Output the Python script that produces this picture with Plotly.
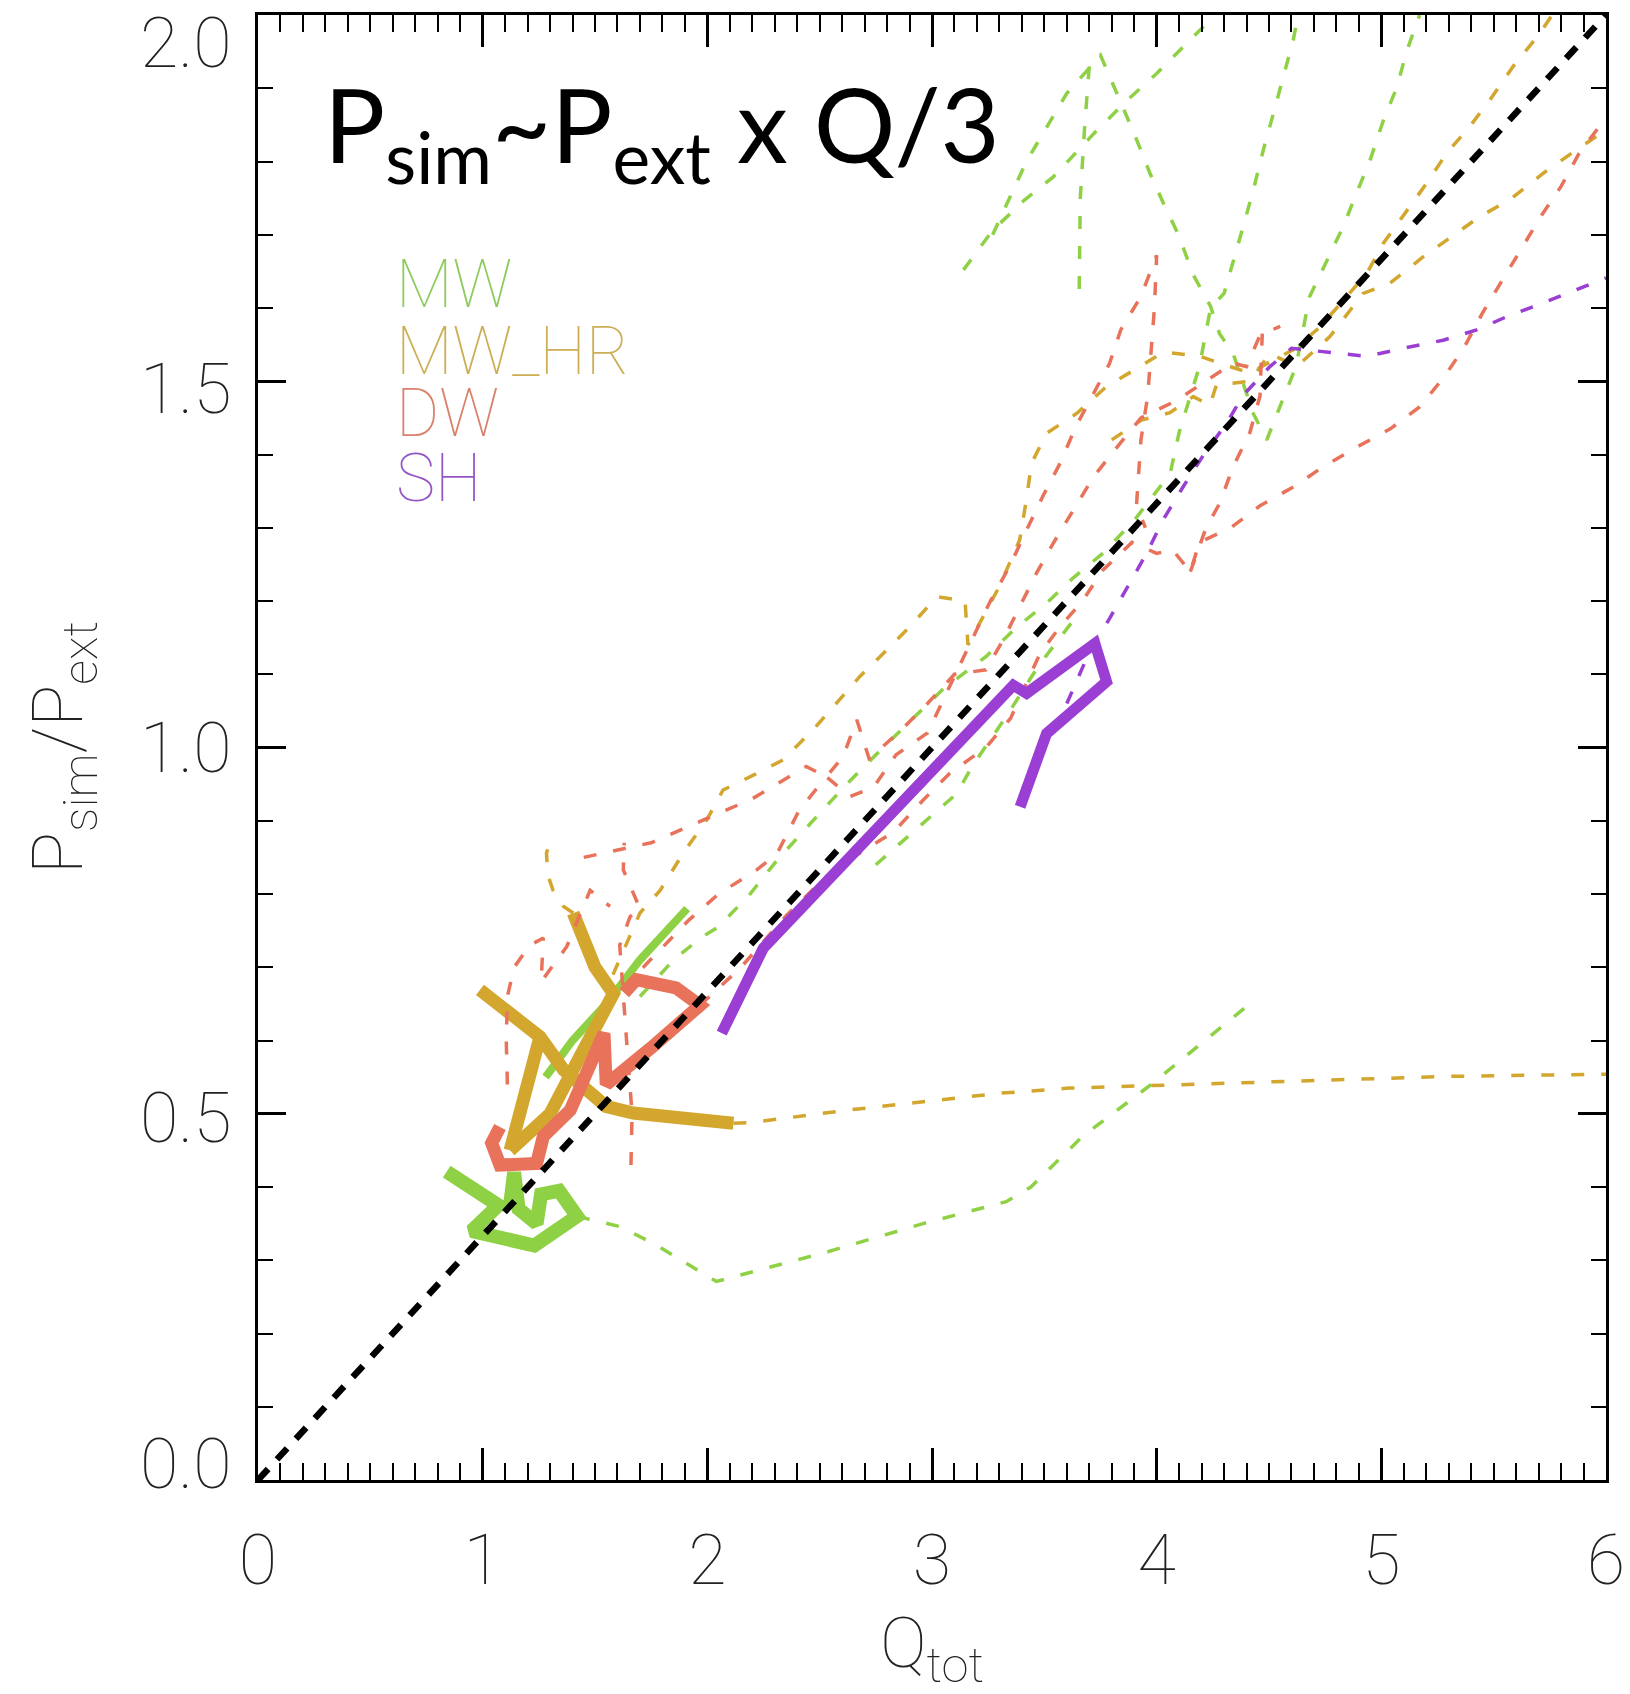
import plotly.graph_objects as go

# ---------------------------------------------------------------------------
# Pressure ratio P_sim/P_ext against total Toomre Q for four galaxy models.
# Each track is a list of (Q_tot, P_sim/P_ext) samples.
# ---------------------------------------------------------------------------

# reference relation P_sim ~ P_ext x Q/3
ref_q = [0.0, 6.0]
ref_ratio = [0.0, 2.0]

# --- MW -------------------------------------------------------------------
mw_core = [(0.84, 0.421), (1.07, 0.375), (0.95, 0.34), (1.13, 0.33), (1.23, 0.32),
           (1.42, 0.36), (1.34, 0.395), (1.26, 0.39), (1.24, 0.35), (1.16, 0.37),
           (1.14, 0.42), (1.12, 0.37)]
mw_wedge = [(1.28, 0.55), (1.40, 0.60), (1.55, 0.65), (1.70, 0.71), (1.91, 0.78)]
mw_low = [(1.42, 0.36), (1.61, 0.346), (1.76, 0.323), (2.04, 0.271), (2.54, 0.312),
          (2.96, 0.35), (3.33, 0.38), (3.44, 0.40), (3.67, 0.469), (3.98, 0.541),
          (4.39, 0.644)]
mw_diag = [(1.70, 0.66), (1.85, 0.71), (1.97, 0.74), (2.05, 0.755), (2.19, 0.80),
           (2.31, 0.846), (2.47, 0.90), (2.62, 0.95), (2.75, 0.99), (2.90, 1.035),
           (3.05, 1.08), (3.24, 1.124), (3.38, 1.165), (3.51, 1.197), (3.63, 1.232),
           (3.76, 1.265), (3.90, 1.31), (4.06, 1.374), (4.10, 1.43), (4.19, 1.52),
           (4.24, 1.60), (4.30, 1.62), (4.34, 1.661), (4.385, 1.711), (4.43, 1.761),
           (4.475, 1.816), (4.52, 1.866), (4.564, 1.916), (4.608, 1.966), (4.63, 2.0)]
mw_below = [(2.75, 0.84), (2.90, 0.88), (3.05, 0.92), (3.11, 0.937), (3.18, 0.975),
            (3.33, 1.042), (3.45, 1.10), (3.51, 1.126), (3.62, 1.17)]
mw_top_a = [(3.14, 1.652), (3.27, 1.706), (3.41, 1.747), (3.54, 1.779), (3.72, 1.838),
            (3.87, 1.884), (4.0, 1.92), (4.12, 1.957), (4.26, 2.0)]
mw_top_b = [(3.27, 1.70), (3.42, 1.80), (3.60, 1.893), (3.75, 1.945), (3.90, 1.838),
            (3.97, 1.784), (4.03, 1.743), (4.10, 1.698), (4.16, 1.647), (4.24, 1.602),
            (4.28, 1.565), (4.34, 1.538), (4.43, 1.456), (4.49, 1.42), (4.56, 1.474),
            (4.62, 1.52), (4.68, 1.615), (4.76, 1.666), (4.83, 1.711), (4.89, 1.757),
            (4.95, 1.802), (5.01, 1.857), (5.07, 1.902), (5.11, 1.948), (5.17, 2.0)]
mw_top_c = [(3.70, 1.93), (3.68, 1.85), (3.66, 1.75), (3.655, 1.62)]

# --- MW_HR ----------------------------------------------------------------
hr_core_a = [(1.403, 0.774), (1.50, 0.70), (1.582, 0.664), (1.50, 0.62), (1.433, 0.578),
             (1.30, 0.50), (1.122, 0.45)]
hr_core_b = [(0.988, 0.669), (1.10, 0.64), (1.255, 0.605), (1.36, 0.56), (1.462, 0.532),
             (1.55, 0.51), (1.67, 0.501), (1.90, 0.493), (2.116, 0.487)]
hr_core_c = [(1.122, 0.45), (1.18, 0.52), (1.255, 0.605)]
hr_flat = [(2.116, 0.487), (2.192, 0.488), (2.627, 0.505), (2.964, 0.516), (3.302, 0.528),
           (3.61, 0.535), (3.948, 0.538), (4.341, 0.542), (4.789, 0.546), (5.297, 0.551),
           (6.0, 0.554)]
hr_rise = [(1.58, 0.69), (1.70, 0.774), (1.79, 0.805), (1.893, 0.856), (1.997, 0.901),
           (2.07, 0.942), (2.203, 0.962), (2.337, 0.983), (2.47, 1.024), (2.576, 1.061),
           (2.679, 1.097), (2.798, 1.133), (2.917, 1.17), (3.021, 1.206), (3.147, 1.20),
           (3.16, 1.14), (3.30, 1.22), (3.39, 1.283), (3.42, 1.338), (3.443, 1.388),
           (3.51, 1.429), (3.644, 1.456), (3.777, 1.493), (3.926, 1.52), (4.03, 1.54),
           (4.193, 1.534), (4.415, 1.511), (4.519, 1.529), (4.608, 1.543), (4.727, 1.574),
           (4.831, 1.611), (4.935, 1.647), (5.008, 1.688), (5.097, 1.725), (5.201, 1.77),
           (5.29, 1.811), (5.394, 1.848), (5.483, 1.884), (5.587, 1.93), (5.706, 1.975),
           (5.76, 2.0)]
hr_rise_b = [(3.80, 1.42), (3.932, 1.447), (4.059, 1.457), (4.163, 1.479), (4.237, 1.467),
             (4.266, 1.495), (4.415, 1.50), (4.504, 1.538), (4.623, 1.52), (4.771, 1.561),
             (4.919, 1.62), (5.039, 1.634), (5.187, 1.67), (5.335, 1.702), (5.439, 1.725),
             (5.573, 1.748), (5.721, 1.784), (5.869, 1.816), (6.0, 1.843)]
hr_stub = [(1.403, 0.774), (1.36, 0.783), (1.313, 0.805), (1.29, 0.826), (1.284, 0.856),
           (1.30, 0.87)]

# --- DW -------------------------------------------------------------------
dw_core = [(1.63, 0.665), (1.684, 0.683), (1.86, 0.672), (1.967, 0.648), (1.75, 0.59),
           (1.55, 0.54), (1.54, 0.61), (1.47, 0.56), (1.39, 0.505), (1.27, 0.469),
           (1.24, 0.432), (1.077, 0.43), (1.04, 0.46), (1.077, 0.482)]
dw_low = [(1.967, 0.648), (2.15, 0.70), (2.35, 0.77), (2.55, 0.83), (2.70, 0.86),
          (2.83, 0.885), (2.96, 0.928), (3.08, 0.965), (3.24, 1.0), (3.35, 1.04),
          (3.48, 1.128), (3.57, 1.165), (3.67, 1.20), (3.76, 1.242), (3.89, 1.28),
          (4.0, 1.265), (4.07, 1.27), (4.15, 1.24), (4.19, 1.28), (4.33, 1.30),
          (4.46, 1.33), (4.61, 1.356), (4.74, 1.383), (4.89, 1.41), (5.04, 1.435),
          (5.17, 1.465), (5.28, 1.506), (5.37, 1.547), (5.45, 1.593), (5.54, 1.638),
          (5.62, 1.679), (5.71, 1.725), (5.80, 1.766), (5.88, 1.811), (6.0, 1.86)]
dw_peak = [(1.62, 0.67), (1.78, 0.72), (1.92, 0.765), (2.05, 0.80), (2.145, 0.819),
           (2.22, 0.833), (2.31, 0.855), (2.41, 0.915), (2.53, 0.96), (2.635, 0.933),
           (2.74, 0.946), (2.84, 0.99), (2.98, 1.02), (3.05, 1.065), (3.12, 1.11),
           (3.20, 1.16), (3.26, 1.20), (3.35, 1.25), (3.41, 1.29), (3.50, 1.347),
           (3.57, 1.388), (3.64, 1.438), (3.72, 1.484), (3.79, 1.524), (3.84, 1.57),
           (3.93, 1.616), (4.0, 1.672), (3.99, 1.60), (3.96, 1.48), (3.93, 1.42),
           (3.91, 1.33), (3.95, 1.30)]
dw_mid = [(1.45, 0.85), (1.60, 0.86), (1.75, 0.87), (1.90, 0.89), (2.05, 0.91),
          (2.20, 0.93), (2.44, 0.974), (2.53, 0.96), (2.605, 0.988), (2.665, 1.038),
          (2.72, 0.985), (2.85, 1.02), (2.98, 1.06), (3.10, 1.10), (3.24, 1.106),
          (3.317, 1.147), (3.39, 1.192), (3.465, 1.238), (3.54, 1.279), (3.63, 1.324),
          (3.72, 1.37), (3.81, 1.405), (3.93, 1.45), (4.09, 1.474), (4.22, 1.50),
          (4.34, 1.525), (4.40, 1.52), (4.46, 1.563), (4.55, 1.575)]
dw_branch = [(4.15, 1.24), (4.22, 1.30), (4.28, 1.333), (4.34, 1.383), (4.415, 1.43),
             (4.46, 1.48), (4.47, 1.565)]
dw_left_a = [(1.66, 0.43), (1.665, 0.50), (1.65, 0.56), (1.64, 0.60), (1.61, 0.73),
             (1.656, 0.769), (1.70, 0.78), (1.626, 0.833), (1.63, 0.87)]
dw_left_b = [(1.11, 0.54), (1.105, 0.60), (1.11, 0.66), (1.14, 0.70), (1.21, 0.73),
             (1.27, 0.74), (1.26, 0.68), (1.374, 0.728), (1.478, 0.805), (1.567, 0.783)]

# --- SH -------------------------------------------------------------------
sh_core = [(2.064, 0.610), (2.249, 0.726), (3.362, 1.085), (3.421, 1.074), (3.725, 1.142),
           (3.777, 1.090), (3.510, 1.019), (3.392, 0.919)]
sh_tail = [(3.60, 1.06), (3.70, 1.13), (3.792, 1.177), (3.881, 1.225), (3.955, 1.265),
           (4.029, 1.311), (4.118, 1.356), (4.21, 1.40), (4.312, 1.443), (4.385, 1.481),
           (4.504, 1.52), (4.60, 1.545), (4.757, 1.540), (4.935, 1.534), (5.097, 1.545),
           (5.275, 1.556), (5.424, 1.570), (5.557, 1.588), (5.72, 1.607), (5.869, 1.625),
           (6.0, 1.641)]

# legend labels
model_names = ["MW", "MW_HR", "DW", "SH"]
model_colors = ["#8fd145", "#d3a62e", "#e9725a", "#9b3fd4"]
label_colors = ["#8ccb5c", "#cbae55", "#d9806a", "#9456c6"]
label_q = 0.605
label_ratio = [1.633, 1.541, 1.456, 1.368]

# y tick labels, nudged vertically (px) the way the axis labels sit
y_tick_vals = [0.0, 0.5, 1.0, 1.5, 2.0]
y_tick_text = ["0.0", "0.5", "1.0", "1.5", "2.0"]
y_tick_nudge = [16, -4, 0, -8, -28]

GREEN, GOLD, SALMON, PURPLE = model_colors
DASH = "13px,17px"

fig = go.Figure()


def track(points, color, width, dash="solid"):
    fig.add_trace(go.Scatter(
        x=[p[0] for p in points], y=[p[1] for p in points],
        mode="lines", line=dict(color=color, width=width, dash=dash),
        hoverinfo="skip", showlegend=False))


# MW
for pts in (mw_low, mw_diag, mw_below, mw_top_a, mw_top_b, mw_top_c):
    track(pts, GREEN, 3.5, DASH)
track(mw_wedge, GREEN, 8)
track(mw_core, GREEN, 14)

# MW_HR
for pts in (hr_flat, hr_rise, hr_rise_b, hr_stub):
    track(pts, GOLD, 3.5, DASH)
for pts in (hr_core_a, hr_core_b, hr_core_c):
    track(pts, GOLD, 13)

# DW
for pts in (dw_low, dw_peak, dw_mid, dw_branch, dw_left_a, dw_left_b):
    track(pts, SALMON, 3.5, DASH)
track(dw_core, SALMON, 13)

# SH
track(sh_tail, PURPLE, 3.5, DASH)
track(sh_core, PURPLE, 11)

# reference relation on top
fig.add_trace(go.Scatter(x=ref_q, y=ref_ratio, mode="lines",
                         line=dict(color="black", width=6.5, dash="15px,13px"),
                         hoverinfo="skip", showlegend=False))

THIN = dict(family="Roboto", size=70, color="#222222", weight=100)

for val, txt, dy in zip(y_tick_vals, y_tick_text, y_tick_nudge):
    fig.add_annotation(x=0, y=val, xref="x", yref="y", text=txt, showarrow=False,
                       xanchor="right", yanchor="middle", xshift=-24, yshift=dy,
                       font=THIN)

for name, col, yy in zip(model_names, label_colors, label_ratio):
    fig.add_annotation(x=label_q, y=yy, xref="x", yref="y", text=name,
                       showarrow=False, xanchor="left", yanchor="middle", height=60,
                       font=dict(family="Roboto", size=66, color=col, weight=100))

fig.add_annotation(x=0.285, y=1.843, xref="x", yref="y",
                   text="P<sub>sim</sub>~P<sub>ext</sub> x Q/3",
                   showarrow=False, xanchor="left", yanchor="middle",
                   font=dict(family="Lato", size=102, color="black"))

axis_common = dict(
    showline=True, linecolor="black", linewidth=3, mirror="allticks",
    ticks="inside", tickcolor="black", tickwidth=2.5,
    showgrid=False, zeroline=False, tickfont=THIN, automargin=False,
)

fig.update_xaxes(range=[0, 6], dtick=1, tick0=0, ticklen=32,
                 minor=dict(dtick=0.1, ticklen=17, ticks="inside", tickcolor="black",
                            tickwidth=2, showgrid=False),
                 ticklabelstandoff=17,
                 title=dict(text="Q<sub>tot</sub>", font=THIN, standoff=50),
                 **axis_common)
fig.update_yaxes(range=[0, 2], dtick=0.5, tick0=0, ticklen=28, showticklabels=False,
                 minor=dict(dtick=0.1, ticklen=15, ticks="inside", tickcolor="black",
                            tickwidth=2, showgrid=False),
                 title=dict(text="P<sub>sim</sub>/P<sub>ext</sub>", font=THIN, standoff=150),
                 **axis_common)

fig.update_layout(width=1630, height=1694,
                  margin=dict(l=258, r=24, t=15, b=214),
                  paper_bgcolor="white", plot_bgcolor="white")

fig.write_html("out.html")
